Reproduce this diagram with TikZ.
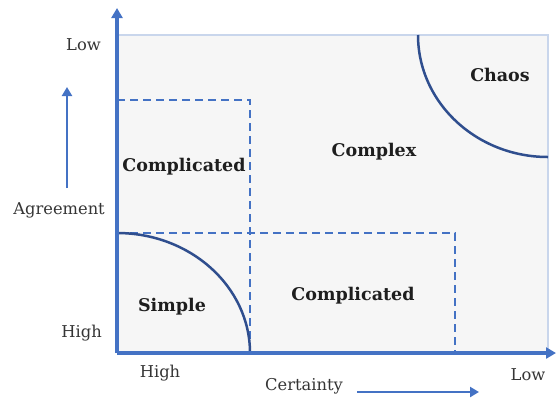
\documentclass[tikz,border=0pt]{standalone}
\usepackage{fontspec}
\setmainfont{DejaVu Serif}
\usetikzlibrary{arrows.meta}
\definecolor{axisblue}{HTML}{4472C4}
\definecolor{panelfill}{HTML}{F6F6F6}
\definecolor{panelline}{HTML}{C9D6EC}
\definecolor{arcblue}{HTML}{2F4E8E}
\definecolor{inktext}{HTML}{1E1E1E}
\tikzset{
  axisline/.style={draw=axisblue, line width=3.4pt, -{Triangle[length=10pt,width=11pt]}},
  hintarrow/.style={draw=axisblue, line width=2.6pt, -{Triangle[length=9pt,width=10pt]}},
  zoneline/.style={draw=axisblue, line width=2.7pt, dash pattern=on 8pt off 5pt},
  boundary/.style={draw=arcblue, line width=2.5pt},
  zonelabel/.style={font=\bfseries\fontsize{17.5}{20}\selectfont, text=inktext, inner sep=0pt},
  axislabel/.style={font=\fontsize{16.3}{19}\selectfont, text=inktext!90, inner sep=0pt}
}
\begin{document}
\begin{tikzpicture}[x=1pt,y=-1pt]
  \useasboundingbox (0,0) rectangle (559,400);
  % named corners of the plot
  \coordinate (O) at (117,353);
  \coordinate (ytop) at (117,8);
  \coordinate (xend) at (556,353);
  \coordinate (panelTR) at (548,35);
  % background panel
  \fill[panelfill] (O) rectangle (panelTR);
  \draw[panelline, line width=1.4pt] (117,35) -- (panelTR) -- (548,353);
  % dashed zones
  \draw[zoneline] (117,100) -- (250,100) -- (250,353);
  \draw[zoneline] (117,233) -- (455,233) -- (455,353);
  % curved boundaries
  \draw[boundary] (117,233) arc[start angle=-90, end angle=0, x radius=133, y radius=120];
  \draw[boundary] (418,35) arc[start angle=180, end angle=90, x radius=130, y radius=122];
  % axes
  \draw[axisline] (O) -- (ytop);
  \draw[axisline] (O) -- (xend);
  % direction hints
  \coordinate (ahA) at (67,188);
  \coordinate (ahB) at (67,87);
  \coordinate (chA) at (357,392);
  \coordinate (chB) at (479,392);
  \draw[hintarrow] (ahA) -- (ahB);
  \draw[hintarrow] (chA) -- (chB);
  % axis labels
  \node[axislabel, anchor=east] (lowY) at (101,45) {Low};
  \node[axislabel, anchor=east] (agree) at (105,210) {Agreement};
  \node[axislabel, anchor=east] (highY) at (102,333) {High};
  \node[axislabel] (highX) at (160,373) {High};
  \node[axislabel] (cert) at (304,386) {Certainty};
  \node[axislabel] (lowX) at (528,375) {Low};
  % zone labels
  \node[zonelabel] (cmpA) at (184,167) {Complicated};
  \node[zonelabel] (cplx) at (374,152) {Complex};
  \node[zonelabel] (chaos) at (500,75) {Chaos};
  \node[zonelabel] (simple) at (172,307) {Simple};
  \node[zonelabel] (cmpB) at (353,296) {Complicated};
\end{tikzpicture}
\end{document}
